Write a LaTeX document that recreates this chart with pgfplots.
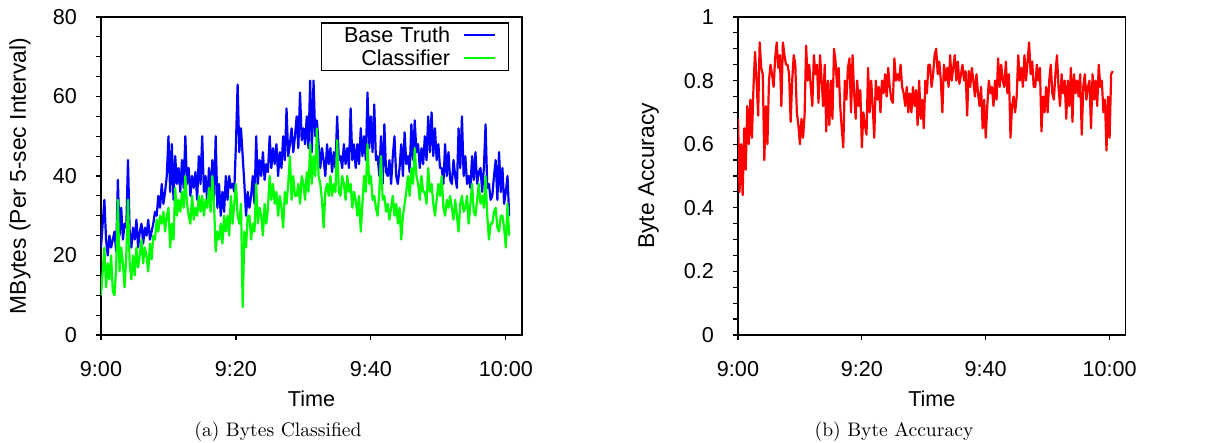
\documentclass[border=0pt]{standalone}
\usepackage{fontspec}
\usepackage{pgfplots}
\pgfplotsset{compat=1.18}
\usepackage{pgfplotstable}
\newfontfamily\gp{Liberation Sans}

\pgfplotstableread[row sep=\\]{b\\
22\\28\\34\\24\\ 20\\25\\22\\24\\ 26\\21\\39\\25\\ 32\\24\\28\\27\\
44\\26\\22\\27\\ 24\\29\\22\\26\\ 28\\23\\27\\25\\ 29\\24\\26\\28\\
31\\30\\35\\32\\ 38\\33\\36\\40\\ 50\\36\\48\\34\\ 45\\38\\42\\36\\
44\\37\\50\\38\\ 42\\35\\40\\37\\ 41\\34\\45\\38\\ 50\\36\\40\\33\\
42\\35\\44\\34\\ 50\\32\\38\\30\\ 36\\31\\40\\34\\ 40\\37\\38\\36\\
48\\63\\46\\52\\ 45\\38\\30\\36\\ 32\\35\\40\\33\\ 50\\38\\44\\40\\
46\\39\\43\\41\\ 50\\42\\47\\43\\ 48\\40\\46\\42\\ 50\\44\\57\\45\\
48\\52\\46\\50\\ 55\\47\\61\\49\\ 52\\48\\55\\47\\ 64\\46\\64\\50\\
54\\48\\42\\47\\ 44\\40\\48\\43\\ 47\\41\\46\\42\\ 55\\44\\45\\42\\
48\\43\\47\\42\\ 57\\44\\48\\42\\ 48\\43\\52\\45\\ 50\\44\\61\\47\\
55\\46\\58\\44\\ 45\\40\\50\\38\\ 53\\41\\40\\44\\ 38\\45\\50\\40\\
38\\42\\48\\40\\ 51\\43\\45\\41\\ 53\\44\\54\\46\\ 48\\42\\47\\43\\
50\\44\\55\\46\\ 56\\45\\52\\44\\ 48\\42\\42\\38\\ 48\\40\\46\\39\\
38\\44\\40\\37\\ 52\\42\\55\\40\\ 45\\38\\40\\37\\ 45\\39\\46\\38\\
41\\42\\36\\42\\ 53\\37\\38\\34\\ 35\\40\\44\\34\\ 46\\36\\42\\33\\
36\\40\\30\\
}\basetruth

\pgfplotstableread[row sep=\\]{c\\
10\\16\\22\\12\\ 18\\14\\20\\11\\ 10\\17\\34\\16\\ 22\\18\\12\\20\\
34\\18\\14\\20\\ 15\\22\\17\\20\\ 24\\18\\22\\20\\ 16\\23\\19\\25\\
24\\29\\26\\30\\ 28\\31\\26\\30\\ 32\\22\\28\\24\\ 37\\30\\34\\31\\
36\\32\\40\\33\\ 30\\28\\35\\29\\ 32\\30\\35\\31\\ 35\\30\\34\\32\\
37\\31\\40\\33\\ 21\\26\\24\\28\\ 23\\30\\26\\30\\ 25\\35\\28\\33\\
38\\30\\28\\33\\ 7\\26\\22\\30\\ 30\\24\\28\\26\\ 38\\28\\32\\30\\
25\\33\\28\\32\\ 40\\34\\38\\33\\ 36\\30\\35\\32\\ 27\\36\\33\\38\\
45\\34\\40\\35\\ 35\\38\\33\\40\\ 38\\34\\41\\36\\ 48\\38\\45\\40\\
52\\40\\38\\34\\ 27\\36\\38\\35\\ 40\\35\\38\\36\\ 49\\36\\35\\40\\
38\\34\\40\\36\\ 38\\32\\36\\34\\ 30\\35\\26\\33\\ 40\\36\\48\\38\\
40\\34\\35\\32\\ 30\\36\\45\\34\\ 35\\31\\33\\29\\ 32\\35\\30\\33\\
28\\32\\24\\30\\ 33\\36\\40\\35\\ 42\\38\\47\\40\\ 38\\34\\40\\36\\
36\\33\\42\\36\\ 38\\33\\30\\34\\ 38\\35\\40\\32\\ 30\\34\\32\\35\\
32\\29\\34\\30\\ 26\\33\\35\\31\\ 32\\35\\28\\33\\ 38\\31\\30\\34\\
38\\33\\35\\32\\ 40\\30\\24\\28\\ 28\\31\\32\\27\\ 26\\30\\30\\27\\
22\\33\\25\\
}\classifier

\pgfplotstableread[row sep=\\]{a\\
0.68\\0.45\\0.60\\0.44\\ 0.65\\0.52\\0.72\\0.60\\ 0.74\\0.62\\0.78\\0.89\\
0.80\\0.69\\0.92\\0.84\\ 0.82\\0.55\\0.72\\0.60\\ 0.80\\0.85\\0.82\\0.78\\
0.87\\0.92\\0.84\\0.88\\ 0.72\\0.92\\0.88\\0.85\\ 0.85\\0.82\\0.67\\0.80\\
0.88\\0.85\\0.70\\0.66\\ 0.60\\0.68\\0.62\\0.69\\ 0.91\\0.80\\0.85\\0.78\\
0.72\\0.88\\0.82\\0.85\\ 0.73\\0.88\\0.80\\0.72\\ 0.85\\0.64\\0.80\\0.66\\
0.80\\0.68\\0.90\\0.86\\ 0.78\\0.84\\0.72\\0.65\\ 0.59\\0.80\\0.74\\0.84\\
0.87\\0.70\\0.88\\0.76\\ 0.68\\0.80\\0.72\\0.77\\ 0.59\\0.70\\0.66\\0.63\\
0.84\\0.70\\0.80\\0.72\\ 0.62\\0.80\\0.74\\0.78\\ 0.70\\0.80\\0.76\\0.82\\
0.75\\0.84\\0.78\\0.74\\ 0.73\\0.87\\0.80\\0.82\\ 0.80\\0.85\\0.78\\0.76\\
0.72\\0.78\\0.70\\0.76\\ 0.70\\0.78\\0.72\\0.77\\ 0.66\\0.80\\0.68\\0.74\\
0.65\\0.80\\0.76\\0.85\\ 0.85\\0.78\\0.82\\0.88\\ 0.90\\0.82\\0.86\\0.80\\
0.70\\0.85\\0.80\\0.84\\ 0.78\\0.88\\0.80\\0.84\\ 0.88\\0.80\\0.86\\0.79\\
0.82\\0.85\\0.80\\0.83\\ 0.69\\0.83\\0.78\\0.84\\ 0.80\\0.75\\0.82\\0.76\\
0.72\\0.78\\0.65\\0.74\\ 0.62\\0.72\\0.80\\0.76\\ 0.78\\0.72\\0.80\\0.74\\
0.87\\0.78\\0.85\\0.80\\ 0.78\\0.86\\0.76\\0.82\\ 0.62\\0.72\\0.75\\0.70\\
0.75\\0.88\\0.80\\0.84\\ 0.78\\0.88\\0.80\\0.86\\ 0.92\\0.82\\0.86\\0.78\\
0.78\\0.85\\0.80\\0.84\\ 0.64\\0.75\\0.70\\0.78\\ 0.70\\0.80\\0.85\\0.76\\
0.74\\0.82\\0.88\\0.78\\ 0.72\\0.82\\0.76\\0.80\\ 0.68\\0.80\\0.72\\0.84\\
0.67\\0.82\\0.76\\0.80\\ 0.75\\0.82\\0.63\\0.78\\ 0.82\\0.74\\0.78\\0.80\\
0.65\\0.82\\0.74\\0.80\\ 0.72\\0.85\\0.78\\0.80\\ 0.70\\0.74\\0.58\\0.75\\
0.62\\0.82\\0.83\\
}\accuracy

\pgfplotsset{gpaxis/.style={
  scale only axis,
  height=159pt,
  xmin=0,
  xtick={0,20,40,60},
  xticklabels={9:00,9:20,9:40,10:00},
  tick align=outside,
  tick pos=left,
  major tick length=2.3pt,
  minor tick length=2.3pt,
  minor y tick num=3,
  axis line style={line width=0.6pt},
  every tick/.style={black, line width=0.6pt},
  font=\gp\fontsize{10.8}{13}\selectfont,
  /pgf/number format/assume math mode=true,
  yticklabel style={anchor=east, inner sep=0pt, xshift=-9.6pt},
  xticklabel style={anchor=north, inner sep=0pt, yshift=-10.5pt},
  ylabel style={font=\gp\fontsize{11.4}{13}\selectfont, anchor=center},
  xlabel style={anchor=center, at={(axis description cs:0.5,-0.2)}},
  xlabel={Time},
  no markers,
  every axis plot/.append style={line width=1.1pt, line join=round},
}}

\begin{document}
\begin{tikzpicture}
\begin{axis}[gpaxis,
  at={(50.5pt,54pt)}, anchor=south west,
  width=210.5pt,
  xmax=62.4,
  ymin=0, ymax=80,
  ytick={0,20,40,60,80},
  ylabel={MBytes (Per 5-sec Interval)},
  ylabel style={at={(axis description cs:-0.1924,0.5)}},
  legend style={at={(rel axis cs:1,1)}, anchor=north east,
    xshift=-6.5pt, yshift=-2.7pt,
    draw=black, line width=0.6pt,
    font=\gp\fontsize{10.8}{13}\selectfont,
    inner xsep=0pt, inner ysep=0.2pt,
    nodes={inner xsep=0pt, inner ysep=1.95pt, text width=64.3pt, align=right,
      text height=7.7pt, text depth=0pt}},
  legend plot pos=right,
  legend image code/.code={
    \draw[#1, line width=1.1pt] (7.15pt,0pt) -- (22.65pt,0pt);
    \path[draw=none, fill=none] (0pt,0pt) -- (29.15pt,0pt);},
]
\addplot[color={rgb,255:red,0;green,0;blue,255}] table[x expr=\coordindex*0.25, y=b] {\basetruth};
\addlegendentry{Base Truth}
\addplot[color={rgb,255:red,0;green,255;blue,0}] table[x expr=\coordindex*0.25, y=c] {\classifier};
\addlegendentry{Classifier}
\end{axis}

\begin{axis}[gpaxis,
  at={(369pt,54pt)}, anchor=south west,
  width=193.85pt,
  xmax=62.6,
  ymin=0, ymax=1,
  ytick={0,0.2,0.4,0.6,0.8,1},
  ylabel={Byte Accuracy},
  ylabel style={at={(axis description cs:-0.2303,0.5)}},
]
\addplot[color={rgb,255:red,255;green,0;blue,0}] table[x expr=\coordindex*0.25, y=a] {\accuracy};
\end{axis}

\node[anchor=base, font=\fontsize{9.8}{11}\selectfont] at (139pt,3pt) {(a) Bytes Classified};
\node[anchor=base, font=\fontsize{9.8}{11}\selectfont] at (447pt,3pt) {(b) Byte Accuracy};

\pgfresetboundingbox
\useasboundingbox (0,0) rectangle (605.5pt,221.5pt);
\end{tikzpicture}
\end{document}
